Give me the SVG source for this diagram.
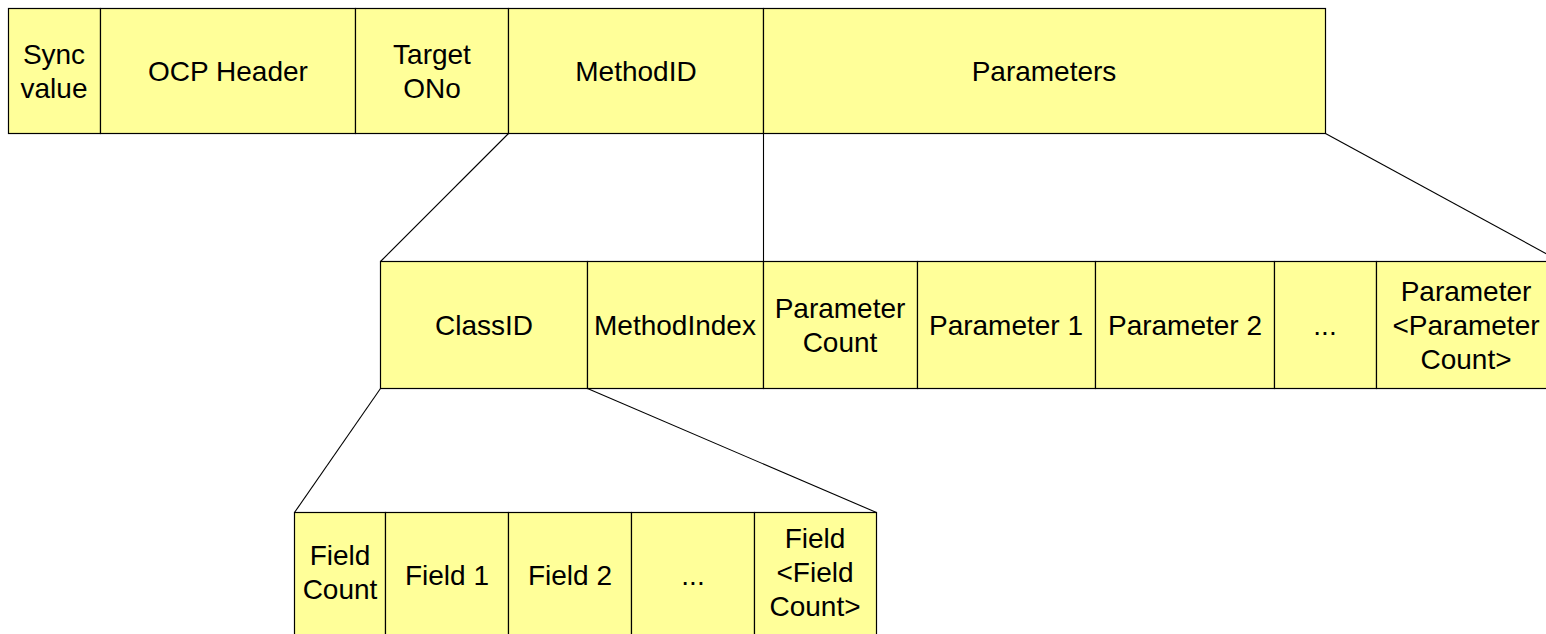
<svg xmlns="http://www.w3.org/2000/svg" width="1546" height="634" viewBox="0 0 1546 634">
<style>
.box{fill:#FFFF99;stroke:#000;stroke-width:1.2}
.t{font-family:"Liberation Sans",Arial,sans-serif;font-size:28px;fill:#000;text-anchor:middle}
.c{stroke:#000;stroke-width:1.1;fill:none}
</style>
<rect width="1546" height="634" fill="#fff"/>
<g id="connectors">
<line class="c" x1="508.5" y1="133.5" x2="380.5" y2="261.5"/>
<line class="c" x1="763.5" y1="133.5" x2="763.5" y2="261.5"/>
<line class="c" x1="1325.5" y1="133.5" x2="1560.5" y2="261.5"/>
<line class="c" x1="380.5" y1="388.5" x2="294.5" y2="512.5"/>
<line class="c" x1="587.5" y1="388.5" x2="876.5" y2="512.5"/>
</g>
<g id="sync"><rect class="box" x="8.5" y="8.5" width="92" height="125"/><text class="t" x="54" y="64">Sync</text><text class="t" x="54" y="98">value</text></g>
<g id="ocpheader"><rect class="box" x="100.5" y="8.5" width="255" height="125"/><text class="t" x="228" y="81">OCP Header</text></g>
<g id="targetono"><rect class="box" x="355.5" y="8.5" width="153" height="125"/><text class="t" x="432" y="64">Target</text><text class="t" x="432" y="98">ONo</text></g>
<g id="methodid"><rect class="box" x="508.5" y="8.5" width="255" height="125"/><text class="t" x="636" y="81">MethodID</text></g>
<g id="parameters"><rect class="box" x="763.5" y="8.5" width="562" height="125"/><text class="t" x="1044" y="81">Parameters</text></g>

<g id="classid"><rect class="box" x="380.5" y="261.5" width="207" height="127"/><text class="t" x="484" y="335">ClassID</text></g>
<g id="methodindex"><rect class="box" x="587.5" y="261.5" width="176" height="127"/><text class="t" x="675" y="335">MethodIndex</text></g>
<g id="paramcount"><rect class="box" x="763.5" y="261.5" width="154" height="127"/><text class="t" x="840" y="318">Parameter</text><text class="t" x="840" y="352">Count</text></g>
<g id="param1"><rect class="box" x="917.5" y="261.5" width="178" height="127"/><text class="t" x="1006" y="335">Parameter 1</text></g>
<g id="param2"><rect class="box" x="1095.5" y="261.5" width="179" height="127"/><text class="t" x="1185" y="335">Parameter 2</text></g>
<g id="paramdots"><rect class="box" x="1274.5" y="261.5" width="102" height="127"/><text class="t" x="1325" y="335">...</text></g>
<g id="paramn"><rect class="box" x="1376.5" y="261.5" width="184" height="127"/><text class="t" x="1466" y="301">Parameter</text><text class="t" x="1466" y="335">&lt;Parameter</text><text class="t" x="1466" y="369">Count&gt;</text></g>

<g id="fieldcount"><rect class="box" x="294.5" y="512.5" width="91" height="126"/><text class="t" x="340" y="565">Field</text><text class="t" x="340" y="599">Count</text></g>
<g id="field1"><rect class="box" x="385.5" y="512.5" width="123" height="126"/><text class="t" x="447" y="585">Field 1</text></g>
<g id="field2"><rect class="box" x="508.5" y="512.5" width="123" height="126"/><text class="t" x="570" y="585">Field 2</text></g>
<g id="fielddots"><rect class="box" x="631.5" y="512.5" width="123" height="126"/><text class="t" x="693" y="585">...</text></g>
<g id="fieldn"><rect class="box" x="754.5" y="512.5" width="122" height="126"/><text class="t" x="815" y="548">Field</text><text class="t" x="815" y="582">&lt;Field</text><text class="t" x="815" y="616">Count&gt;</text></g>
</svg>
